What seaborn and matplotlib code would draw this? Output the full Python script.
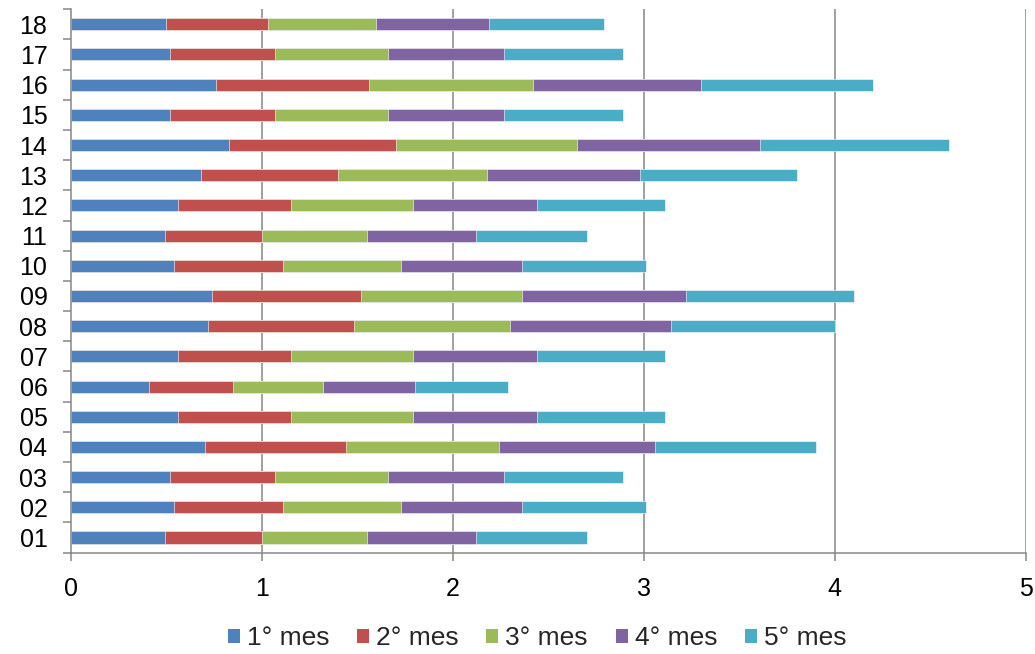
import matplotlib
matplotlib.use("Agg")
import matplotlib.pyplot as plt
import seaborn as sns
import numpy as np
import pandas as pd
from matplotlib.patches import Patch
from matplotlib.ticker import FixedLocator

# Categories (bottom to top on the chart)
categories = ["01", "02", "03", "04", "05", "06", "07", "08", "09",
              "10", "11", "12", "13", "14", "15", "16", "17", "18"]

series_names = ["1° mes", "2° mes", "3° mes", "4° mes", "5° mes"]

mes1 = [0.49, 0.54, 0.52, 0.70, 0.56, 0.41, 0.56, 0.72, 0.74,
        0.54, 0.49, 0.56, 0.68, 0.83, 0.52, 0.76, 0.52, 0.50]
mes2 = [0.51, 0.57, 0.55, 0.74, 0.59, 0.44, 0.59, 0.76, 0.78,
        0.57, 0.51, 0.59, 0.72, 0.87, 0.55, 0.80, 0.55, 0.53]
mes3 = [0.55, 0.62, 0.59, 0.80, 0.64, 0.47, 0.64, 0.82, 0.84,
        0.62, 0.55, 0.64, 0.78, 0.95, 0.59, 0.86, 0.59, 0.57]
mes4 = [0.57, 0.63, 0.61, 0.82, 0.65, 0.48, 0.65, 0.84, 0.86,
        0.63, 0.57, 0.65, 0.80, 0.96, 0.61, 0.88, 0.61, 0.59]
mes5 = [0.58, 0.65, 0.62, 0.84, 0.67, 0.49, 0.67, 0.86, 0.88,
        0.65, 0.58, 0.67, 0.82, 0.99, 0.62, 0.90, 0.62, 0.60]

x_ticks = [0, 1, 2, 3, 4, 5]

colors = ["#4F81BD", "#C0504D", "#9BBB59", "#8064A2", "#4BACC6"]
axis_gray = "#868686"

sns.set_theme(style="white")
plt.rcParams["font.family"] = ["Liberation Sans", "DejaVu Sans"]

fig = plt.figure(figsize=(10.35, 6.54), dpi=100)
ax = fig.add_axes([0.0686, 0.155, 0.9224, 0.831])

df = pd.DataFrame({"cat": categories})
series = [mes1, mes2, mes3, mes4, mes5]
cum = np.cumsum(np.array(series), axis=0)
order = categories[::-1]  # 18 at the top

# Stacked bars: draw the cumulative totals from longest to shortest
for i in range(len(series) - 1, -1, -1):
    df["val"] = cum[i]
    sns.barplot(data=df, x="val", y="cat", order=order, orient="h",
                color=colors[i], saturation=1, width=0.4,
                edgecolor="white", linewidth=0.4, ax=ax, zorder=3)

ax.set_xlim(0, 5)
ax.set_ylim(len(categories) - 0.5, -0.5)
ax.set_xlabel("")
ax.set_ylabel("")

# Vertical grid lines
ax.set_xticks(x_ticks)
ax.set_xticklabels([str(t) for t in x_ticks])
ax.grid(False)
for t in x_ticks[1:]:
    ax.axvline(t, color=axis_gray, lw=1.1, zorder=1)

for side in ["top", "right"]:
    ax.spines[side].set_visible(False)
for side in ["left", "bottom"]:
    ax.spines[side].set_color(axis_gray)
    ax.spines[side].set_linewidth(1.1)
    ax.spines[side].set_zorder(4)

# Category tick marks sit between bars; labels stay centered
ax.yaxis.set_minor_locator(FixedLocator(np.arange(-0.5, len(categories), 1.0)))
ax.tick_params(axis="y", which="major", length=0, pad=17, labelsize=18,
               labelcolor="black")
ax.tick_params(axis="y", which="minor", left=True, length=5.5, width=1.1,
               color=axis_gray)
ax.tick_params(axis="x", which="major", bottom=True, length=5.5, width=1.1,
               color=axis_gray, pad=12, labelsize=18, labelcolor="black")

handles = [Patch(facecolor=c, edgecolor="none", label=n)
           for c, n in zip(colors, series_names)]
fig.legend(handles=handles, loc="center", bbox_to_anchor=(0.519, 0.024),
           ncol=5, frameon=False, fontsize=19, handlelength=0.45,
           handleheight=0.45, handletextpad=0.27, columnspacing=1.05)

fig.savefig("out.png", dpi=100)
